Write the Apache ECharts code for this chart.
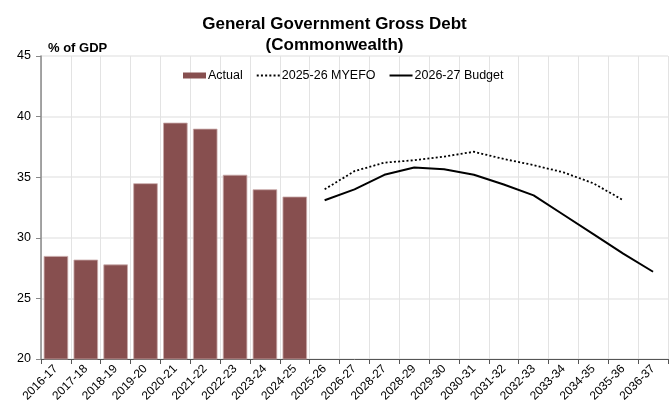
<!DOCTYPE html>
<html>
<head>
<meta charset="utf-8">
<script src="https://cdn.jsdelivr.net/npm/echarts@6/dist/echarts.min.js"></script>
<style>html,body{margin:0;padding:0;background:#fff}#c{width:669px;height:420px}</style>
</head>
<body>
<div id="c"></div>
<script>
var categories = ['2016-17','2017-18','2018-19','2019-20','2020-21','2021-22','2022-23','2023-24','2024-25','2025-26','2026-27','2028-27','2028-29','2029-30','2030-31','2031-32','2032-33','2033-34','2034-35','2035-36','2036-37'];
var actual = [28.5, 28.2, 27.8, 34.5, 39.5, 39.0, 35.2, 34.0, 33.4, null, null, null, null, null, null, null, null, null, null, null, null];
var myefo = [null, null, null, null, null, null, null, null, null, 34.0, 35.5, 36.2, 36.4, 36.7, 37.1, 36.5, 36.0, 35.4, 34.5, 33.1, null];
var budget = [null, null, null, null, null, null, null, null, null, 33.1, 34.0, 35.2, 35.8, 35.65, 35.2, 34.4, 33.5, 31.9, 30.3, 28.7, 27.2];
var yTicks = {min: 20, max: 45, interval: 5};

var chart = echarts.init(document.getElementById('c'), null, {renderer: 'canvas'});
var font = 'Liberation Sans, Arial, sans-serif';
chart.setOption({
  animation: false,
  backgroundColor: '#fff',
  textStyle: {fontFamily: font},
  title: [{
    text: 'General Government Gross Debt\n(Commonwealth)',
    left: 'center', top: 9,
    textStyle: {fontFamily: font, fontSize: 17, fontWeight: 'bold', color: '#000', lineHeight: 21}
  }, {
    text: '% of GDP', left: 43, top: 37,
    textStyle: {fontFamily: font, fontSize: 13, fontWeight: 'bold', color: '#000'}
  }],
  legend: {
    top: 64, left: 178,
    itemGap: 13, itemWidth: 23, itemHeight: 6,
    textStyle: {fontFamily: font, fontSize: 12.5, color: '#000', padding: [0,0,0,-3]},
    data: [
      {name: 'Actual', icon: 'rect', itemStyle: {borderWidth: 0, color: '#874f4f'}},
      {name: '2025-26 MYEFO', itemStyle: {opacity: 0, color: 'rgba(0,0,0,0)', borderWidth: 0}},
      {name: '2026-27 Budget', itemStyle: {opacity: 0, color: 'rgba(0,0,0,0)', borderWidth: 0}}
    ]
  },
  grid: {left: 41, right: 1, top: 56, bottom: 61, containLabel: false},
  xAxis: {
    type: 'category', data: categories, boundaryGap: true,
    axisLine: {lineStyle: {color: '#555', width: 1}},
    axisTick: {show: true, alignWithLabel: false, length: 5, lineStyle: {color: '#555'}},
    axisLabel: {rotate: 45, interval: 0, fontFamily: font, fontSize: 12, color: '#000', margin: 8},
    splitLine: {show: true, interval: 0, lineStyle: {color: '#e3e3e3', width: 1}}
  },
  yAxis: {
    type: 'value', min: yTicks.min, max: yTicks.max, interval: yTicks.interval,
    axisLine: {show: true, lineStyle: {color: '#888', width: 1.5}},
    axisTick: {show: true, length: 5, lineStyle: {color: '#888'}},
    axisLabel: {fontFamily: font, fontSize: 12.5, color: '#000', margin: 10},
    splitLine: {show: true, lineStyle: {color: '#e8e8e8', width: 1.5}}
  },
  series: [{
    name: 'Actual', type: 'bar', data: actual,
    barCategoryGap: '18%',
    itemStyle: {color: '#874f4f', borderColor: '#c9a9a9', borderWidth: 0.8}
  }, {
    name: '2025-26 MYEFO', type: 'line', data: myefo,
    symbol: 'none', connectNulls: false,
    itemStyle: {color: '#000'},
    lineStyle: {color: '#000', width: 1.8, type: [2, 2.2]}
  }, {
    name: '2026-27 Budget', type: 'line', data: budget,
    symbol: 'none',
    itemStyle: {color: '#000'},
    lineStyle: {color: '#000', width: 2}
  }]
});
</script>
</body>
</html>
